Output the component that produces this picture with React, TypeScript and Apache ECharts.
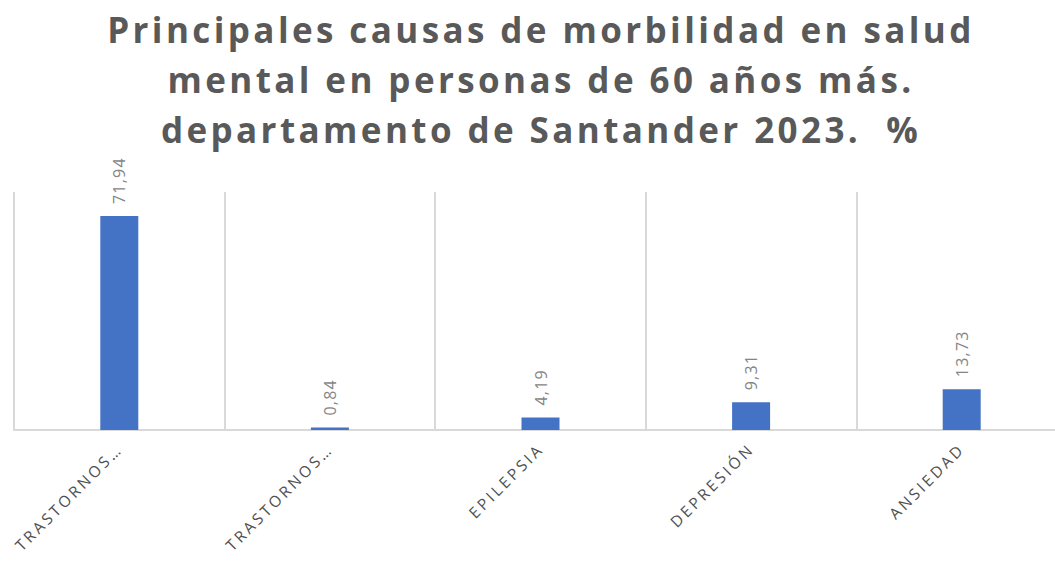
import React, { useEffect, useRef } from "react";
import * as echarts from "echarts";

const titleLines = [
  "Principales causas de morbilidad en salud",
  "mental en personas de 60 años más.",
  "departamento de Santander 2023.  %",
];
const categories = ["TRASTORNOS…", "TRASTORNOS…", "EPILEPSIA", "DEPRESIÓN", "ANSIEDAD"];
const values = [71.94, 0.84, 4.19, 9.31, 13.73];

const css = `
#chartbox svg text[style*="35px"] { letter-spacing: 3.4px; }
#chartbox svg text[style*="15.5px"] { letter-spacing: 3px; }
#chartbox svg text[style*="16px"] { letter-spacing: 1.2px; }
`;

export default function App() {
  const ref = useRef<HTMLDivElement>(null);
  useEffect(() => {
    if (!ref.current) return;
    const chart = echarts.init(ref.current, null, { renderer: "svg" });
    chart.setOption({
      animation: false,
      backgroundColor: "#ffffff",
      title: {
        text: titleLines.join("\n"),
        left: 536,
        textAlign: "center",
        top: -1,
        textStyle: {
          fontFamily: "Open Sans",
          fontWeight: "bold",
          fontSize: 35,
          lineHeight: 50,
          color: "#595959",
        },
      },
      grid: {
        left: 14,
        width: 1053,
        top: 192,
        height: 238,
        containLabel: false,
        outerBoundsMode: "none",
      },
      xAxis: {
        type: "category",
        data: categories,
        axisLine: { lineStyle: { color: "#d9d9d9", width: 2 } },
        axisTick: { show: false },
        splitLine: { show: true, lineStyle: { color: "#d9d9d9", width: 2 } },
        axisLabel: {
          rotate: 45,
          interval: 0,
          margin: 16,
          color: "#505050",
          fontFamily: "Open Sans",
          fontSize: 15.5,
        },
      },
      yAxis: {
        type: "value",
        min: 0,
        max: 80,
        show: false,
        splitLine: { show: false },
      },
      series: [
        {
          type: "bar",
          data: values,
          barWidth: 38,
          itemStyle: { color: "#4472C4" },
          label: {
            show: true,
            position: "top",
            rotate: 90,
            align: "left",
            verticalAlign: "middle",
            distance: 12,
            color: "#858585",
            fontFamily: "Open Sans",
            fontSize: 16,
            formatter: (p: any) => p.value.toFixed(2).replace(".", ","),
          },
        },
      ],
    });
    return () => chart.dispose();
  }, []);
  return (
    <>
      <style>{css}</style>
      <div
        id="chartbox"
        ref={ref}
        style={{ position: "fixed", left: 0, top: 0, width: 1055, height: 561 }}
      />
    </>
  );
}
